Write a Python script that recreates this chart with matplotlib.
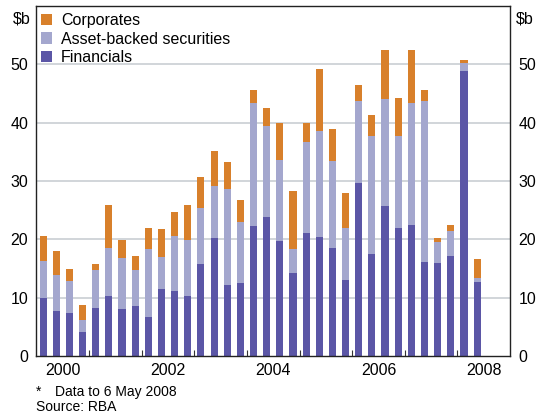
import matplotlib
import numpy as np

matplotlib.use("Agg")
import matplotlib.pyplot as plt  # noqa: E402

plt.rcParams["font.family"] = ["Liberation Sans", "DejaVu Sans"]

# Quarterly issuance, 2000 Q1 to 2008 Q2 ($b)
years = np.repeat(np.arange(2000, 2009), 4)[:34]
quarters = np.tile([1, 2, 3, 4], 9)[:34]

financials = [10.0, 7.7, 7.3, 4.1, 8.2, 10.3, 8.0, 8.5, 6.6, 11.4, 11.1, 10.3,
              15.7, 20.3, 12.1, 12.5, 22.2, 23.8, 19.7, 14.2, 21.0, 20.4, 18.5, 13.0,
              29.6, 17.5, 25.7, 21.9, 22.4, 16.1, 15.9, 17.1, 48.9, 12.6]
asset_backed = [6.2, 6.1, 5.5, 2.1, 6.5, 8.2, 8.8, 6.2, 11.7, 5.5, 9.4, 9.6,
                9.6, 8.8, 16.5, 10.4, 21.2, 15.6, 13.9, 4.1, 15.7, 18.1, 14.9, 8.9,
                14.1, 20.2, 18.3, 15.9, 21.0, 27.6, 3.6, 4.3, 1.3, 0.7]
corporates = [4.3, 4.2, 2.1, 2.5, 1.0, 7.3, 3.1, 2.4, 3.6, 4.8, 4.1, 5.9,
              5.3, 6.0, 4.6, 3.8, 2.2, 3.1, 6.4, 9.9, 3.3, 10.7, 5.5, 6.1,
              2.7, 3.6, 8.5, 6.4, 9.1, 1.9, 0.8, 1.0, 0.6, 3.3]

year_labels = ["2000", "2002", "2004", "2006", "2008"]

C_FIN = "#5b56a6"
C_ABS = "#a4a7ce"
C_CORP = "#d8802b"

fin = np.array(financials)
abs_ = np.array(asset_backed)
corp = np.array(corporates)
x = years + (quarters - 0.5) / 4

fig = plt.figure(figsize=(5.39, 4.17), dpi=100)
ax = fig.add_axes([0.0677, 0.1463, 0.8785, 0.8393])

w = 0.135
ax.bar(x, fin, width=w, color=C_FIN, label="Financials", zorder=2)
ax.bar(x, abs_, width=w, bottom=fin, color=C_ABS,
       label="Asset-backed securities", zorder=2)
ax.bar(x, corp, width=w, bottom=fin + abs_, color=C_CORP,
       label="Corporates", zorder=2)

ax.set_xlim(2000, 2009)
ax.set_ylim(0, 60)

# gridlines
for v in range(10, 60, 10):
    ax.axhline(v, color="#c9ced3", lw=1.2, zorder=1)

ax.set_yticks(range(0, 60, 10))
ax.tick_params(axis="y", length=0, labelsize=11.5, pad=6,
               labelleft=True, labelright=True)

label_pos = [int(s) + 0.5 for s in year_labels]
ax.set_xticks(label_pos)
ax.set_xticklabels(year_labels)
ax.set_xticks(np.arange(2001, 2009), minor=True)
ax.tick_params(axis="x", which="major", length=0, labelsize=11.5, pad=5)
ax.tick_params(axis="x", which="minor", direction="in", length=4,
               width=0.8, color="#333333")

for s in ax.spines.values():
    s.set_linewidth(1.0)
    s.set_color("#222222")

ax.text(-0.012, 0.985, "$b", transform=ax.transAxes, ha="right", va="top",
        fontsize=11.5)
ax.text(1.012, 0.985, "$b", transform=ax.transAxes, ha="left", va="top",
        fontsize=11.5)

handles, labels = ax.get_legend_handles_labels()
leg = ax.legend(handles[::-1], labels[::-1], loc="upper left",
                bbox_to_anchor=(0.003, 0.99), frameon=False, fontsize=11.5,
                handlelength=0.7, handleheight=0.7, handletextpad=0.55,
                labelspacing=0.24, borderpad=0.2, borderaxespad=0.0)

fig.text(0.067, 0.06, "*", fontsize=10, va="center")
fig.text(0.102, 0.06, "Data to 6 May 2008", fontsize=10, va="center")
fig.text(0.067, 0.025, "Source: RBA", fontsize=10, va="center")

fig.savefig("out.png", dpi=100)
